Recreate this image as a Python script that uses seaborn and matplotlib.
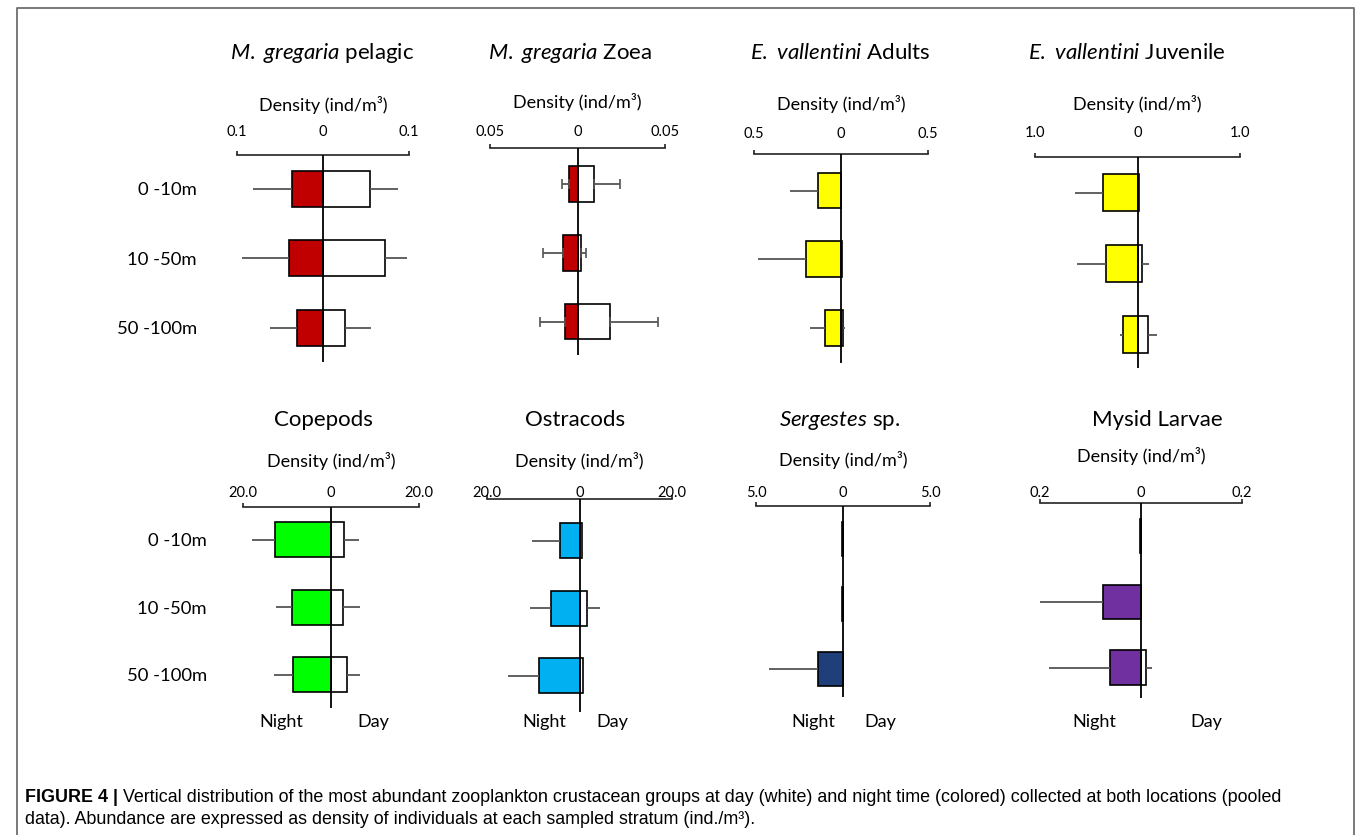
import numpy as np
import pandas as pd
import matplotlib
matplotlib.use("Agg")
import matplotlib.pyplot as plt
import seaborn as sns
from matplotlib.lines import Line2D

# ---------------- data ----------------
depths = ["0 -10m", "10 -50m", "50 -100m"]

titles = [r"$\it{M.\ gregaria}$ pelagic", r"$\it{M.\ gregaria}$ Zoea",
          r"$\it{E.\ vallentini}$ Adults", r"$\it{E.\ vallentini}$ Juvenile",
          "Copepods", "Ostracods", r"$\it{Sergestes}$ sp.", "Mysid Larvae"]

axis_max = [0.1, 0.05, 0.5, 1.0, 20.0, 20.0, 5.0, 0.2]
tick_text = [["0.1", "0", "0.1"], ["0.05", "0", "0.05"], ["0.5", "0", "0.5"],
             ["1.0", "0", "1.0"], ["20.0", "0", "20.0"], ["20.0", "0", "20.0"],
             ["5.0", "0", "5.0"], ["0.2", "0", "0.2"]]

mg_pel_night = [0.036, 0.040, 0.030]
mg_pel_night_err = [0.045, 0.054, 0.032]
mg_pel_day = [0.055, 0.072, 0.025]
mg_pel_day_err = [0.032, 0.026, 0.031]

mg_zoea_night = [0.0048, 0.0082, 0.0073]
mg_zoea_night_err = [0.0040, 0.0116, 0.0144]
mg_zoea_day = [0.0093, 0.0021, 0.0186]
mg_zoea_day_err = [0.0150, 0.0028, 0.0274]

ev_ad_night = [0.134, 0.201, 0.092]
ev_ad_night_err = [0.159, 0.274, 0.084]
ev_ad_day = [0.0, 0.005, 0.010]
ev_ad_day_err = [0.0, 0.0, 0.015]

ev_juv_night = [0.341, 0.309, 0.143]
ev_juv_night_err = [0.270, 0.283, 0.027]
ev_juv_day = [0.016, 0.042, 0.100]
ev_juv_day_err = [0.0, 0.071, 0.095]

cop_night = [12.76, 8.96, 8.58]
cop_night_err = [5.1, 3.64, 4.4]
cop_day = [3.03, 2.66, 3.72]
cop_day_err = [3.3, 3.95, 2.9]

ost_night = [4.3, 6.2, 8.7]
ost_night_err = [6.0, 4.4, 6.85]
ost_day = [0.5, 1.6, 0.73]
ost_day_err = [0.0, 2.9, 0.0]

serg_night = [0.03, 0.03, 1.42]
serg_night_err = [0.0, 0.0, 2.83]
serg_day = [0.0, 0.0, 0.0]
serg_day_err = [0.0, 0.0, 0.0]

mys_night = [0.002, 0.0746, 0.0614]
mys_night_err = [0.0, 0.125, 0.12]
mys_day = [0.0, 0.0, 0.0093]
mys_day_err = [0.0, 0.0, 0.012]

night_colors = ["#C00000", "#C00000", "#FFFF00", "#FFFF00",
                "#00FF00", "#00B0F0", "#1F3F7A", "#7030A0"]

night_vals = [mg_pel_night, mg_zoea_night, ev_ad_night, ev_juv_night,
              cop_night, ost_night, serg_night, mys_night]
night_errs = [mg_pel_night_err, mg_zoea_night_err, ev_ad_night_err, ev_juv_night_err,
              cop_night_err, ost_night_err, serg_night_err, mys_night_err]
day_vals = [mg_pel_day, mg_zoea_day, ev_ad_day, ev_juv_day,
            cop_day, ost_day, serg_day, mys_day]
day_errs = [mg_pel_day_err, mg_zoea_day_err, ev_ad_day_err, ev_juv_day_err,
            cop_day_err, ost_day_err, serg_day_err, mys_day_err]

# ---------------- layout (pixels) ----------------
# left, right, axis_y, bottom, first_row_center, last_row_center,
# ticklabel_baseline, density_baseline, title_x, title_baseline
layout = [
    (237, 409, 155.0, 362.0, 188.7, 327.7, 136.0, 110.5, 322.5, 59.3),
    (490, 665, 148.3, 355.0, 184.3, 321.5, 136.0, 108.3, 570.0, 59.3),
    (754, 928, 154.0, 363.0, 190.5, 328.0, 138.0, 110.0, 840.0, 59.3),
    (1035, 1240, 156.7, 368.0, 192.8, 334.5, 136.7, 110.0, 1126.7, 59.3),
    (243, 419, 507.3, 708.3, 539.7, 674.5, 496.7, 466.7, 323.0, 426.5),
    (487, 672, 499.0, 712.0, 540.5, 675.8, 496.7, 466.7, 575.0, 426.5),
    (756, 930, 506.0, 697.0, 539.2, 669.3, 496.7, 466.0, 840.0, 426.5),
    (1040, 1242, 503.3, 698.0, 535.8, 667.5, 496.7, 461.7, 1157.5, 426.5),
]
nightday_offsets = {4: (-50, 42), 5: (-35, 33), 6: (-30, 37), 7: (-47, 65)}
caps = [0, 3.5, 0, 0, 0, 0, 0, 0]

# ---------------- style ----------------
sns.set_theme(style="white")
plt.rcParams["font.family"] = ["Lato", "DejaVu Sans"]
plt.rcParams["mathtext.fontset"] = "custom"
plt.rcParams["mathtext.rm"] = "Lato"
plt.rcParams["mathtext.it"] = "Lato:italic"
plt.rcParams["text.color"] = "black"
plt.rcParams["xtick.color"] = "#222222"
plt.rcParams["xtick.labelcolor"] = "black"
plt.rcParams["ytick.labelcolor"] = "black"

W, H = 1357, 835
PT = 100 / 72.0
fig = plt.figure(figsize=(W / 100, H / 100), dpi=100)
fig.patch.set_facecolor("white")


def fx(x):
    return x / W


def fy(y):
    return 1 - y / H


TICK_FS = 10.5
DESC = 0.21 * TICK_FS * PT

for i in range(8):
    left, right, ay, by, c0, c2, tlb, dlb, tx, tb = layout[i]
    ax = fig.add_axes([fx(left), fy(by), (right - left) / W, (by - ay) / H])
    ax.set_facecolor("none")
    m = axis_max[i]

    df_n = pd.DataFrame({"depth": depths, "value": -np.array(night_vals[i])})
    df_d = pd.DataFrame({"depth": depths, "value": np.array(day_vals[i])})

    sns.barplot(data=df_d, x="value", y="depth", order=depths, orient="h",
                color="white", saturation=1, edgecolor="black", linewidth=1.2,
                width=0.52, errorbar=None, ax=ax)
    sns.barplot(data=df_n, x="value", y="depth", order=depths, orient="h",
                color=night_colors[i], saturation=1, edgecolor="black", linewidth=1.2,
                width=0.52, errorbar=None, ax=ax)

    pos = np.arange(len(depths))
    ne = np.array(night_errs[i])
    de = np.array(day_errs[i])
    z = np.zeros(len(depths))
    ax.errorbar(-np.array(night_vals[i]), pos, xerr=[ne, z], fmt="none",
                ecolor="#555555", elinewidth=1.3, capsize=caps[i], capthick=1.2)
    ax.errorbar(np.array(day_vals[i]), pos, xerr=[z, de], fmt="none",
                ecolor="#555555", elinewidth=1.3, capsize=caps[i], capthick=1.2)

    ax.axvline(0, color="black", lw=1.3, zorder=4)

    s = (c2 - c0) / 2.0
    ax.set_ylim((by - c0) / s, (ay - c0) / s)
    ax.set_xlim(-m, m)

    # x axis on top
    ax.xaxis.tick_top()
    ax.set_xticks([-m, m])
    ax.set_xticklabels([tick_text[i][0], tick_text[i][2]])
    ax.set_xticks([0], minor=True)
    ax.set_xticklabels([tick_text[i][1]], minor=True)
    off_pt = (ay - tlb - DESC) / PT
    ax.tick_params(axis="x", which="major", direction="out", length=3, width=1.2,
                   pad=off_pt - 3, labelsize=TICK_FS, top=True, bottom=False,
                   labeltop=True, labelbottom=False)
    ax.tick_params(axis="x", which="minor", length=0, pad=off_pt,
                   labelsize=TICK_FS, top=True, bottom=False,
                   labeltop=True, labelbottom=False)
    ax.set_xlabel("")
    ax.set_ylabel("")

    for sp in ["left", "right", "bottom"]:
        ax.spines[sp].set_visible(False)
    ax.spines["top"].set_visible(True)
    ax.spines["top"].set_color("#222222")
    ax.spines["top"].set_linewidth(1.2)

    if i % 4 == 0:
        ypad = (40 if i == 0 else 36) / PT
        ax.tick_params(axis="y", length=0, pad=ypad, labelsize=13.3, left=True,
                       labelleft=True)
    else:
        ax.tick_params(axis="y", left=False, labelleft=False)

    # density label
    ax.annotate("Density (ind/m³)", xy=(0.5, 1), xycoords="axes fraction",
                xytext=(0, (ay - dlb) / PT), textcoords="offset points",
                ha="center", va="baseline", fontsize=13)

    # title
    fig.text(fx(tx), fy(tb), titles[i], ha="center", va="baseline", fontsize=16)

    # night / day labels
    if i in nightday_offsets:
        zx = (left + right) / 2.0
        dn, dd = nightday_offsets[i]
        fig.text(fx(zx + dn), fy(727), "Night", ha="center", va="baseline", fontsize=13)
        fig.text(fx(zx + dd), fy(727), "Day", ha="center", va="baseline", fontsize=13)

# frame
fig.add_artist(Line2D([fx(17), fx(17), fx(1354), fx(1354)],
                      [fy(835), fy(8), fy(8), fy(835)],
                      transform=fig.transFigure, color="#6e6e6e", lw=1.3))

# caption
cap_fam = ["Liberation Sans", "DejaVu Sans"]
CAP_FS = 12.9
renderer = fig.canvas.get_renderer()
t1 = fig.text(fx(25), fy(801.7), "FIGURE 4 |", fontweight="bold", family=cap_fam,
              fontsize=CAP_FS, ha="left", va="baseline")
bb = t1.get_window_extent(renderer)
fig.text((bb.x1 + 5) / W, fy(801.7),
         "Vertical distribution of the most abundant zooplankton crustacean groups at day "
         "(white) and night time (colored) collected at both locations (pooled",
         family=cap_fam, fontsize=CAP_FS, ha="left", va="baseline")
fig.text(fx(25), fy(824),
         "data). Abundance are expressed as density of individuals at each sampled stratum (ind./m³).",
         family=cap_fam, fontsize=CAP_FS, ha="left", va="baseline")

fig.savefig("out.png", dpi=100, facecolor="white")
